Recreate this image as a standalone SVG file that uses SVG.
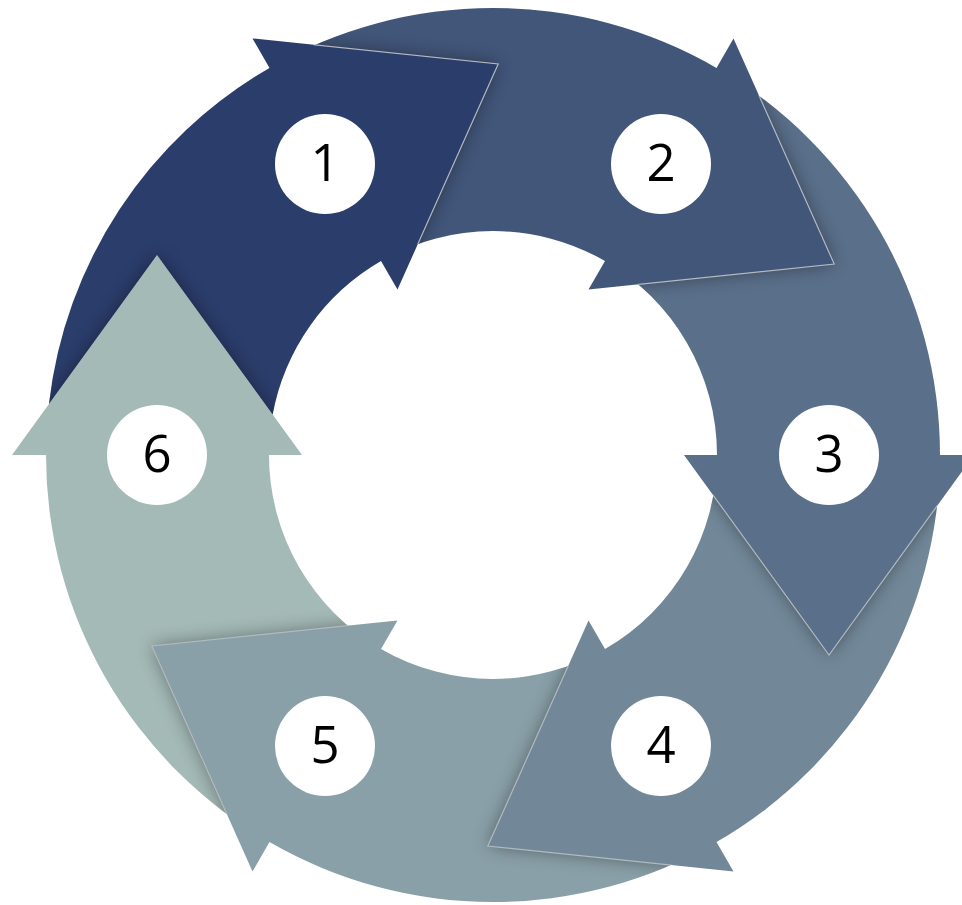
<svg xmlns="http://www.w3.org/2000/svg" width="962" height="905" viewBox="0 0 962 905">
<style>
.lbl{fill:#ffffff}
.num{font-family:"Open Sans","Noto Sans","DejaVu Sans",sans-serif;font-size:51px;fill:#000000;text-anchor:middle}
.edge{fill:none;stroke:#b3b9c0;stroke-width:1.2;stroke-linejoin:miter}
.shadow{fill:#000000;opacity:0.38;filter:url(#blur)}
</style>
<defs>
<filter id="blur" x="-30%" y="-30%" width="160%" height="160%"><feGaussianBlur stdDeviation="9"/></filter>
<clipPath id="cB1"><path d="M48.91,404.09 A447,447 0 0 1 269.5,67.89 L381,261.01 A224,224 0 0 0 272.68,414.56 L157,255 Z"/></clipPath>
<clipPath id="cB2"><path d="M269.5,67.89 A447,447 0 0 1 716.5,67.89 L605,261.01 A224,224 0 0 0 381,261.01 Z"/></clipPath>
<clipPath id="cB3"><path d="M716.5,67.89 A447,447 0 0 1 940,455 L717,455 A224,224 0 0 0 605,261.01 Z"/></clipPath>
<clipPath id="cB4"><path d="M940,455 A447,447 0 0 1 716.5,842.11 L605,648.99 A224,224 0 0 0 717,455 Z"/></clipPath>
<clipPath id="cB5"><path d="M716.5,842.11 A447,447 0 0 1 269.5,842.11 L381,648.99 A224,224 0 0 0 605,648.99 Z"/></clipPath>
<clipPath id="cB6"><path d="M269.5,842.11 A447,447 0 0 1 46,455 L269,455 A224,224 0 0 0 381,648.99 Z"/></clipPath>
</defs>

<g id="step-6">
<path fill="#a4bab7" d="M269.5,842.11 A447,447 0 0 1 46,455 L12,455 L157,255 L302,455 L269,455 A224,224 0 0 0 381,648.99 Z"/>
<g clip-path="url(#cB6)"><path class="shadow" d="M252.5,871.56 L151.79,645.98 L397.5,620.41 Z"/></g>
<g clip-path="url(#cB1)"><path class="edge" d="M12,455 L157,255 L302,455"/></g>
<circle class="lbl" cx="157" cy="455" r="50"/>
<text class="num" x="157" y="472">6</text>
</g>

<g id="step-5">
<path fill="#8aa0a8" d="M716.5,842.11 A447,447 0 0 1 269.5,842.11 L252.5,871.56 L151.79,645.98 L397.5,620.41 L381,648.99 A224,224 0 0 0 605,648.99 Z"/>
<g clip-path="url(#cB5)"><path class="shadow" d="M733.5,871.56 L487.79,845.98 L588.5,620.41 Z"/></g>
<g clip-path="url(#cB6)"><path class="edge" d="M252.5,871.56 L151.79,645.98 L397.5,620.41"/></g>
<circle class="lbl" cx="325" cy="746" r="50"/>
<text class="num" x="325" y="763">5</text>
</g>

<g id="step-4">
<path fill="#728899" d="M940,455 A447,447 0 0 1 716.5,842.11 L733.5,871.56 L487.79,845.98 L588.5,620.41 L605,648.99 A224,224 0 0 0 717,455 Z"/>
<g clip-path="url(#cB4)"><path class="shadow" d="M974,455 L829,655 L684,455 Z"/></g>
<g clip-path="url(#cB5)"><path class="edge" d="M733.5,871.56 L487.79,845.98 L588.5,620.41"/></g>
<circle class="lbl" cx="661" cy="746" r="50"/>
<text class="num" x="661" y="763">4</text>
</g>

<g id="step-3">
<path fill="#5a6f8a" d="M716.5,67.89 A447,447 0 0 1 940,455 L974,455 L829,655 L684,455 L717,455 A224,224 0 0 0 605,261.01 Z"/>
<g clip-path="url(#cB3)"><path class="shadow" d="M733.5,38.44 L834.21,264.02 L588.5,289.59 Z"/></g>
<g clip-path="url(#cB4)"><path class="edge" d="M974,455 L829,655 L684,455"/></g>
<circle class="lbl" cx="829" cy="455" r="50"/>
<text class="num" x="829" y="472">3</text>
</g>

<g id="step-2">
<path fill="#42567a" d="M269.5,67.89 A447,447 0 0 1 716.5,67.89 L733.5,38.44 L834.21,264.02 L588.5,289.59 L605,261.01 A224,224 0 0 0 381,261.01 Z"/>
<g clip-path="url(#cB2)"><path class="shadow" d="M252.5,38.44 L498.21,64.02 L397.5,289.59 Z"/></g>
<g clip-path="url(#cB3)"><path class="edge" d="M733.5,38.44 L834.21,264.02 L588.5,289.59"/></g>
<circle class="lbl" cx="661" cy="164" r="50"/>
<text class="num" x="661" y="181">2</text>
</g>

<g id="step-1">
<path fill="#2b3d6b" d="M48.91,404.09 A447,447 0 0 1 269.5,67.89 L252.5,38.44 L498.21,64.02 L397.5,289.59 L381,261.01 A224,224 0 0 0 272.68,414.56 L157,255 Z"/>
<g clip-path="url(#cB1)"><path class="shadow" d="M12,455 L157,255 L302,455 Z"/></g>
<g clip-path="url(#cB2)"><path class="edge" d="M252.5,38.44 L498.21,64.02 L397.5,289.59"/></g>
<circle class="lbl" cx="325" cy="164" r="50"/>
<text class="num" x="325" y="181">1</text>
</g>
</svg>
